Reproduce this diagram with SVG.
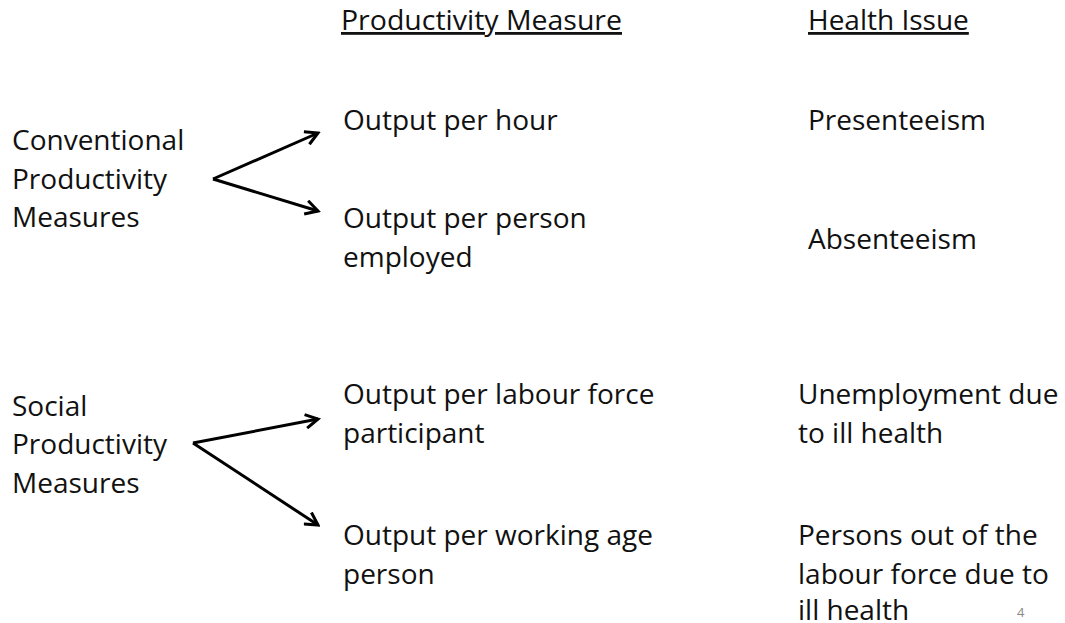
<svg xmlns="http://www.w3.org/2000/svg" width="1065" height="623" viewBox="0 0 1065 623">
<style>
text{font-family:"Open Sans",Lato,"Liberation Sans",sans-serif;font-size:28px;fill:#111}
.h{text-decoration:underline}
.pg{font-size:13px;fill:#888}
.c{stroke:#000;stroke-width:3;fill:none}
</style>
<defs>
<marker id="ah" viewBox="0 0 12 12" refX="10" refY="6" markerWidth="5.5" markerHeight="5.5" markerUnits="strokeWidth" orient="auto">
<path d="M1,1 L10,6 L1,11" fill="none" stroke="#000" stroke-width="2.2"/>
</marker>
</defs>
<rect width="1065" height="623" fill="#fff"/>
<g id="headers">
<text x="341" y="30" class="h" textLength="281" lengthAdjust="spacingAndGlyphs">Productivity Measure</text>
<text x="808" y="30" class="h">Health Issue</text>
</g>
<g id="conventional"><text x="12" y="150">Conventional</text><text x="12" y="189">Productivity</text><text x="12" y="227">Measures</text></g>
<g id="out-hour"><text x="343" y="130">Output per hour</text></g>
<g id="out-person"><text x="343" y="228">Output per person</text><text x="343" y="267">employed</text></g>
<g id="presenteeism"><text x="808" y="130">Presenteeism</text></g>
<g id="absenteeism"><text x="808" y="249">Absenteeism</text></g>
<g id="social"><text x="12" y="416">Social</text><text x="12" y="454">Productivity</text><text x="12" y="493">Measures</text></g>
<g id="out-labour"><text x="343" y="404">Output per labour force</text><text x="343" y="443">participant</text></g>
<g id="out-working"><text x="343" y="545">Output per working age</text><text x="343" y="584">person</text></g>
<g id="unemployment"><text x="798" y="404">Unemployment due</text><text x="798" y="443">to ill health</text></g>
<g id="out-of-lf"><text x="798" y="545">Persons out of the</text><text x="798" y="584">labour force due to</text><text x="798" y="620">ill health</text></g>
<g id="page"><text x="1017" y="617" class="pg">4</text></g>
<g id="connectors">
<path class="c" d="M213,179 L318,133" marker-end="url(#ah)"/>
<path class="c" d="M213,179 L318,211" marker-end="url(#ah)"/>
<path class="c" d="M193,443 L318,419" marker-end="url(#ah)"/>
<path class="c" d="M193,443 L318,525" marker-end="url(#ah)"/>
</g>
</svg>
